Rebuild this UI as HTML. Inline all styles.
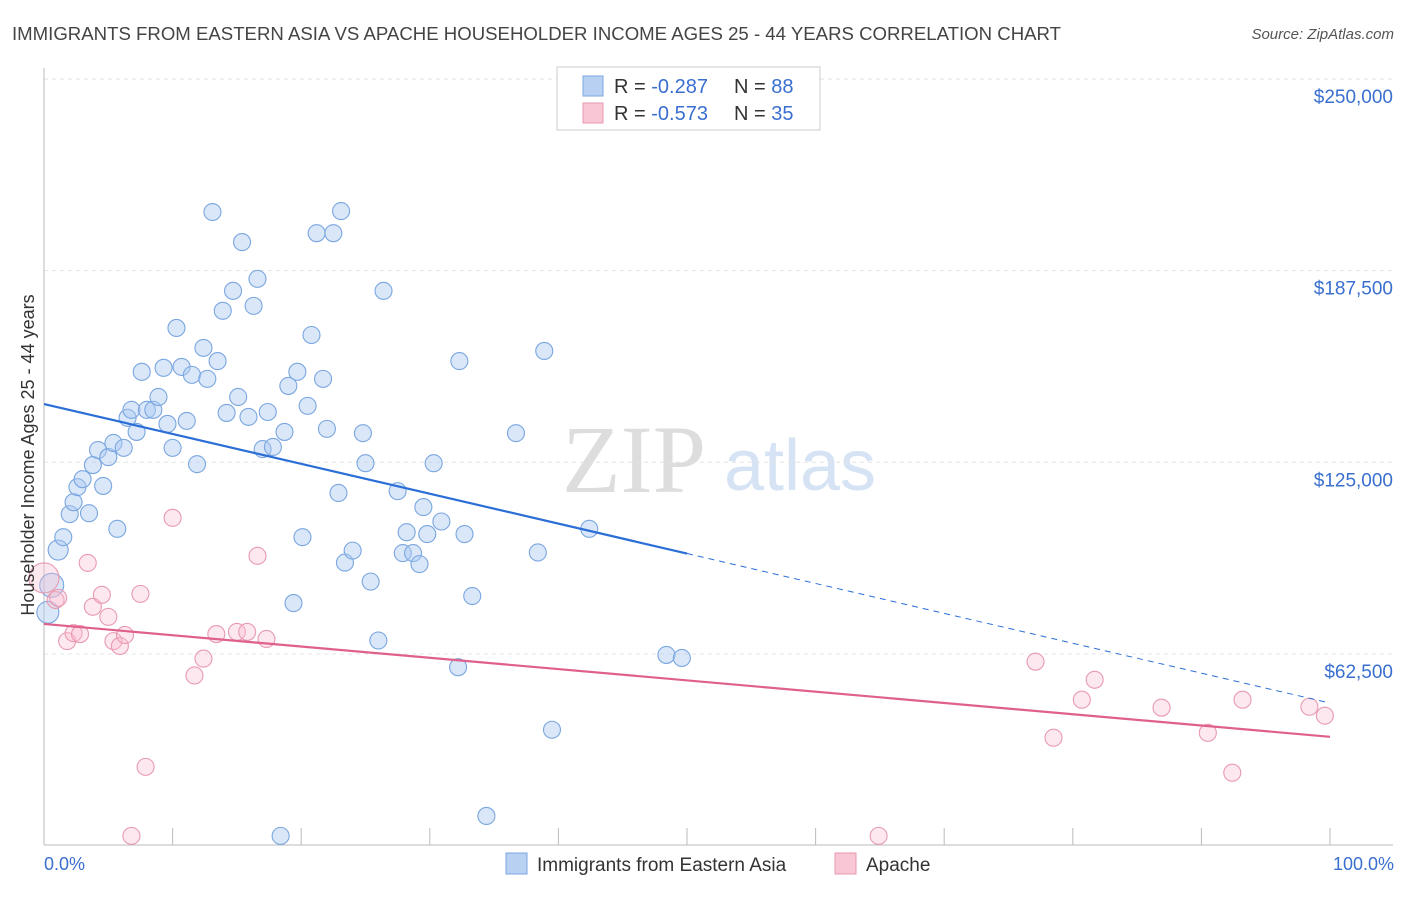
<!DOCTYPE html>
<html><head><meta charset="utf-8"><style>
body{margin:0;background:#fff;font-family:"Liberation Sans",sans-serif;}
</style></head><body>
<svg width="1406" height="892" xmlns="http://www.w3.org/2000/svg" id="chart">
<text x="12" y="40" font-size="18" fill="#444" textLength="1049" lengthAdjust="spacingAndGlyphs">IMMIGRANTS FROM EASTERN ASIA VS APACHE HOUSEHOLDER INCOME AGES 25 - 44 YEARS CORRELATION CHART</text>
<text x="1394" y="39" font-size="15" fill="#555" text-anchor="end" font-style="italic">Source: ZipAtlas.com</text>
<text x="634" y="492" font-size="96" fill="#ddd" text-anchor="middle" font-family="Liberation Serif">ZIP</text>
<text x="800" y="490" font-size="72" fill="#d5e3f4" text-anchor="middle">atlas</text>
<g id="grid"></g><g id="axes"></g><g id="pts"></g><g id="lines"></g>
<text transform="translate(34,455) rotate(-90)" font-size="18" fill="#333" text-anchor="middle">Householder Income Ages 25 - 44 years</text>
<text x="44" y="870" font-size="18" fill="#3a6fd0">0.0%</text>
<text x="1394" y="870" font-size="18" fill="#3a6fd0" text-anchor="end">100.0%</text>
<g>
<rect x="557" y="67" width="263" height="63" fill="#fff" stroke="#ccc"/>
<rect x="583" y="76" width="20" height="20" fill="#b8d1f3" stroke="#7aa6e0"/>
<rect x="583" y="103" width="20" height="20" fill="#f8c6d4" stroke="#e89ab0"/>
<text x="614" y="93" font-size="20" fill="#333">R = <tspan fill="#3a6fd0">-0.287</tspan><tspan x="734">N = </tspan><tspan fill="#3a6fd0">88</tspan></text>
<text x="614" y="120" font-size="20" fill="#333">R = <tspan fill="#3a6fd0">-0.573</tspan><tspan x="734">N = </tspan><tspan fill="#3a6fd0">35</tspan></text>
</g>
<g>
<rect x="506" y="853" width="21" height="21" fill="#b8d1f3" stroke="#7aa6e0"/>
<text x="537" y="871" font-size="19" fill="#333">Immigrants from Eastern Asia</text>
<rect x="835" y="853" width="21" height="21" fill="#f8c6d4" stroke="#e89ab0"/>
<text x="866" y="871" font-size="19" fill="#333">Apache</text>
</g>
</svg>
<script>
const yTicks=[62500,125000,187500,250000];
const yTickLabels=["$62,500","$125,000","$187,500","$250,000"];
const blueX=[0.6,0.3,1.1,1.5,2.0,2.3,2.6,3.0,3.5,3.8,4.2,4.6,5.0,5.4,5.7,6.2,6.5,6.8,7.2,7.6,8.0,8.5,8.9,9.3,9.6,10.0,10.3,10.7,11.1,11.5,11.9,12.4,12.7,13.1,13.5,13.9,14.2,14.7,15.1,15.4,15.9,16.3,16.6,17.0,17.4,17.8,18.7,19.0,19.4,19.7,20.1,20.5,20.8,21.2,21.7,22.0,22.5,22.9,23.1,23.4,24.0,24.8,25.0,25.4,26.0,26.4,27.5,27.9,28.2,28.7,29.2,29.5,29.8,30.3,30.9,32.3,32.7,33.3,32.2,34.4,36.7,38.4,38.9,39.5,42.4,48.4,49.6,18.4];
const blueY=[84.9,76.1,96.4,100.6,108.1,112.0,116.9,119.5,108.4,124.1,129.0,117.3,126.7,131.3,103.3,129.7,139.5,142.1,134.9,154.5,142.1,142.1,146.3,155.8,137.5,129.7,168.8,156.1,138.5,153.5,124.4,162.3,152.2,206.6,158.0,174.4,141.1,180.9,146.3,196.8,139.8,176.0,184.8,129.3,141.4,130.0,134.9,149.9,79.1,154.5,100.6,143.4,166.5,199.7,152.2,135.9,199.7,115.0,206.9,92.3,96.2,134.5,124.7,86.1,66.9,180.9,115.6,95.4,102.2,95.4,91.8,110.4,101.6,124.7,105.7,158.0,101.6,81.4,58.2,9.7,134.5,95.6,161.3,37.8,103.3,62.2,61.2,3.2];
const pinkX=[0,0.9,1.1,1.8,2.3,2.8,3.4,3.8,4.5,5.0,5.4,5.9,6.3,7.5,7.9,6.8,10.0,11.7,12.4,13.4,15.0,15.8,16.6,17.3,64.9,77.1,78.5,80.7,81.7,86.9,90.5,92.4,93.2,98.4,99.6];
const pinkY=[87.3,80.1,80.8,66.7,69.3,69.0,92.2,77.9,81.8,74.6,66.7,65.1,68.7,82.1,25.7,3.2,106.9,55.5,61.0,69.0,69.7,69.7,94.5,67.4,3.2,60.0,35.2,47.6,54.1,45.0,36.8,23.8,47.6,45.3,42.4];
const blueFit=[144.0,46.5];
const pinkFit=[72.3,35.5];
const NS="http://www.w3.org/2000/svg";
const X=v=>44+v*12.86;
const Y=v=>845.7-v*1000/62500*191.7;
function mk(p,t,a){const e=document.createElementNS(NS,t);for(const k in a)e.setAttribute(k,a[k]);document.getElementById(p).appendChild(e);return e;}
let g=mk('grid','line',{x1:44,x2:1393,y1:79,y2:79,stroke:'#ddd','stroke-dasharray':'4,4'});


yTicks.forEach((t,i)=>{
 const l=mk('grid','line',{x1:44,x2:1393,y1:Y(t/1000),y2:Y(t/1000),stroke:'#e4e4e4','stroke-dasharray':'4,4'});
 
 
 const tx=mk('axes','text',{x:1393,y:Y(t/1000)+24,'font-size':19,fill:'#3a6fd0','text-anchor':'end'});
 tx.textContent=yTickLabels[i];
 
 
});
let ax=mk('axes','line',{x1:44,x2:1393,y1:845,y2:845,stroke:'#bbb'});


let ay=mk('axes','line',{x1:44,x2:44,y1:68,y2:845,stroke:'#bbb'});


for(let i=0;i<=10;i++){const t=mk('axes','line',{x1:X(i*10),x2:X(i*10),y1:828,y2:845,stroke:'#bbb'});
 
 }
function pts(xs,ys,fill,stroke,name){xs.forEach((x,i)=>{
 let r=8.5; if(i===0) r=name==='pink-point'?15:12; if(i===1&&name==='blue-point') r=11; if(i===2&&name==='blue-point') r=10;
 const c=mk('pts','circle',{cx:X(x),cy:Y(ys[i]),r:r,fill:fill,stroke:stroke,'stroke-width':1.1});
 
 
});}
pts(blueX,blueY,'rgba(170,202,242,0.45)','#7aa6e0','blue-point');
pts(pinkX,pinkY,'rgba(248,190,208,0.35)','#e89ab0','pink-point');
const bm=blueFit[0]+(blueFit[1]-blueFit[0])*0.5;
let b1=mk('lines','line',{x1:X(0),y1:Y(blueFit[0]),x2:X(50),y2:Y(bm),stroke:'#2b6fd6','stroke-width':2.2});


let b2=mk('lines','line',{x1:X(50),y1:Y(bm),x2:X(100),y2:Y(blueFit[1]),stroke:'#2b6fd6','stroke-width':1,'stroke-dasharray':'6,5'});


let p1=mk('lines','line',{x1:X(0),y1:Y(pinkFit[0]),x2:X(100),y2:Y(pinkFit[1]),stroke:'#e0608c','stroke-width':2.2});


</script>
</body></html>
